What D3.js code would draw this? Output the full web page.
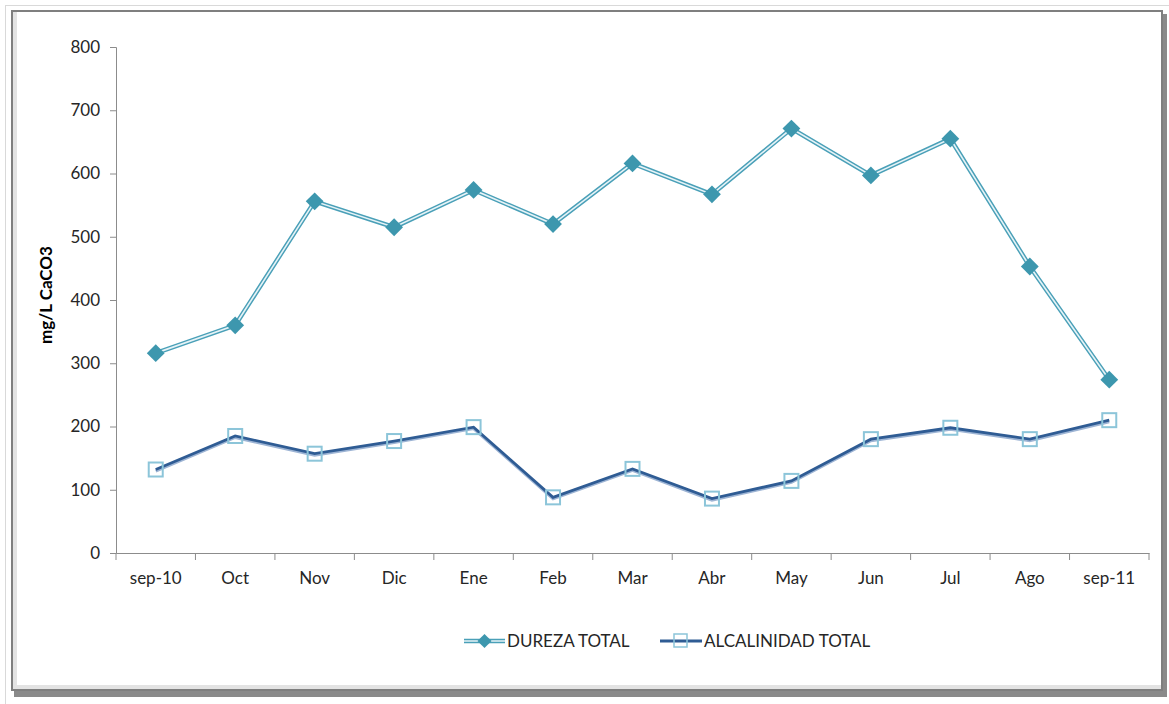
<!DOCTYPE html>
<html>
<head>
<meta charset="utf-8">
<script src="https://cdn.jsdelivr.net/npm/d3@7"></script>
<style>
  body { margin: 0; background: #fff; }
  text { font-family: Lato, "Open Sans", sans-serif; }
</style>
</head>
<body>
<svg id="chart" width="1169" height="704"></svg>
<script>
// data
const months = ["sep-10", "Oct", "Nov", "Dic", "Ene", "Feb", "Mar", "Abr", "May", "Jun", "Jul", "Ago", "sep-11"];
const dureza = [316, 360, 556, 515, 574, 520, 616, 567, 671, 597, 655, 453, 274];
const alcalinidad = [132, 185, 157, 177, 199, 88, 133, 86, 114, 180, 198, 180, 210];
const yTicks = [0, 100, 200, 300, 400, 500, 600, 700, 800];

const svg = d3.select("#chart");
const margin = { top: 47, left: 116, right: 20, bottom: 151 };
const width = 1149 - margin.left;
const height = 553 - margin.top;

// frame
svg.append("rect").attr("x", 5.5).attr("y", 5.5).attr("width", 1170).attr("height", 700)
  .attr("fill", "none").attr("stroke", "#d9d9d9");
svg.append("rect").attr("x", 1162).attr("y", 14).attr("width", 5).attr("height", 683).attr("fill", "#8a8a8a");
svg.append("rect").attr("x", 14).attr("y", 690).attr("width", 1153).attr("height", 7).attr("fill", "#8a8a8a");
svg.append("rect").attr("x", 12).attr("y", 11).attr("width", 1150).attr("height", 679)
  .attr("fill", "#fff").attr("stroke", "#7f7f7f").attr("stroke-width", 2);
svg.append("rect").attr("x", 13).attr("y", 12).attr("width", 4).attr("height", 677).attr("fill", "#e3e3e3");
svg.append("rect").attr("x", 13).attr("y", 685).attr("width", 1148).attr("height", 4).attr("fill", "#e3e3e3");

const g = svg.append("g").attr("transform", "translate(" + margin.left + "," + margin.top + ")");

let x = d3.scaleBand().domain(months).range([0, width]);
let y = d3.scaleLinear().domain([0, 800]).range([height, 0]);

// axes
let yAxis = g.append("g")
  .call(d3.axisLeft(y).tickValues(yTicks).tickSize(6).tickPadding(10));
let xAxis = g.append("g")
  .attr("transform", "translate(0," + height + ")")
  .call(d3.axisBottom(x).tickSize(0).tickPadding(19));
xAxis.selectAll(".tick")
  .append("line")
  .attr("x1", -x.bandwidth() / 2).attr("x2", -x.bandwidth() / 2)
  .attr("y1", 0).attr("y2", 7)
  .attr("stroke", "#8c8c8c");
xAxis.append("line")
  .attr("x1", width).attr("x2", width).attr("y1", 0).attr("y2", 7)
  .attr("stroke", "#8c8c8c");

[xAxis, yAxis].forEach(a => {
  a.select(".domain").attr("stroke", "#8c8c8c");
  a.selectAll(".tick line").attr("stroke", "#8c8c8c");
  a.selectAll("text").attr("fill", "#262626").style("font-size", "17px");
});

g.append("text")
  .attr("transform", "translate(-64," + (height / 2 - 5) + ") rotate(-90)")
  .attr("text-anchor", "middle")
  .attr("font-weight", "bold")
  .attr("font-size", 17)
  .attr("fill", "#000")
  .text("mg/L CaCO3");

const cx = d => x(d) + x.bandwidth() / 2;

let line = d3.line()
  .x((d, i) => cx(months[i]))
  .y(d => y(d));

// DUREZA TOTAL - double line
g.append("path").datum(dureza).attr("d", line)
  .attr("fill", "none").attr("stroke", "#4aa0b8").attr("stroke-width", 4.5);
g.append("path").datum(dureza).attr("d", line)
  .attr("fill", "none").attr("stroke", "#e6f3f7").attr("stroke-width", 1.6);
g.selectAll(".dia").data(dureza).enter().append("path")
  .attr("class", "dia")
  .attr("transform", (d, i) => "translate(" + cx(months[i]) + "," + y(d) + ") rotate(45)")
  .attr("d", "M-6.3,-6.3H6.3V6.3H-6.3Z")
  .attr("fill", "#3d97ae");

// ALCALINIDAD TOTAL
g.append("path").datum(alcalinidad).attr("d", line)
  .attr("transform", "translate(0,1.5)")
  .attr("fill", "none").attr("stroke", "#9db4d4").attr("stroke-width", 3);
g.append("path").datum(alcalinidad).attr("d", line)
  .attr("fill", "none").attr("stroke", "#2f5c94").attr("stroke-width", 2.8);
g.selectAll(".sq").data(alcalinidad).enter().append("rect")
  .attr("class", "sq")
  .attr("x", (d, i) => cx(months[i]) - 7)
  .attr("y", d => y(d) - 7)
  .attr("width", 14).attr("height", 14)
  .attr("fill", "none").attr("stroke", "#8cc5d9").attr("stroke-width", 2);

// legend
let legend = svg.append("g").attr("transform", "translate(0,641)");
legend.append("line").attr("x1", 464).attr("x2", 505).attr("y1", 0).attr("y2", 0)
  .attr("stroke", "#4aa0b8").attr("stroke-width", 4.5);
legend.append("line").attr("x1", 464).attr("x2", 505).attr("y1", 0).attr("y2", 0)
  .attr("stroke", "#e6f3f7").attr("stroke-width", 1.6);
legend.append("path").attr("transform", "translate(484.5,0) rotate(45)")
  .attr("d", "M-5,-5H5V5H-5Z").attr("fill", "#3d97ae");
legend.append("text").attr("x", 507).attr("y", 0).attr("dy", "0.35em")
  .attr("font-size", 17).attr("fill", "#262626").text("DUREZA TOTAL");

legend.append("line").attr("x1", 660).attr("x2", 702).attr("y1", 0).attr("y2", 0)
  .attr("stroke", "#2f5c94").attr("stroke-width", 3);
legend.append("rect").attr("x", 674).attr("y", -7).attr("width", 13).attr("height", 13)
  .attr("fill", "none").attr("stroke", "#8cc5d9").attr("stroke-width", 1.5);
legend.append("text").attr("x", 704).attr("y", 0).attr("dy", "0.35em")
  .attr("font-size", 17).attr("fill", "#262626").text("ALCALINIDAD TOTAL");
</script>
</body>
</html>
